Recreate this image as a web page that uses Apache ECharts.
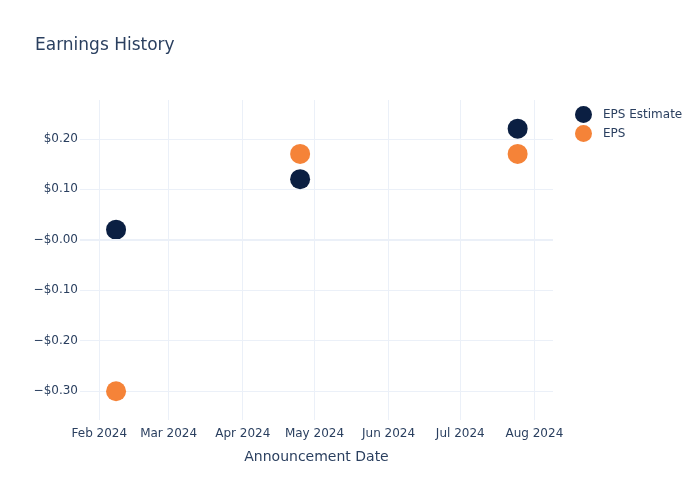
<!DOCTYPE html>
<html>
<head>
<meta charset="utf-8">
<script src="https://cdn.jsdelivr.net/npm/echarts@6/dist/echarts.min.js"></script>
<style>html,body{margin:0;padding:0;background:#fff}#c{width:700px;height:500px}</style>
</head>
<body>
<div id="c"></div>
<script>
const dates = ['2024-02-08', '2024-04-25', '2024-07-25'];
const epsEstimate = [0.02, 0.12, 0.22];
const epsActual = [-0.30, 0.17, 0.17];
const yTickValues = [-0.3, -0.2, -0.1, 0, 0.1, 0.2];
const yTickLabels = ['\u2212$0.30', '\u2212$0.20', '\u2212$0.10', '\u2212$0.00', '$0.10', '$0.20'];
const monthNames = ['Jan','Feb','Mar','Apr','May','Jun','Jul','Aug','Sep','Oct','Nov','Dec'];

function toTime(s) { const p = s.split('-').map(Number); return new Date(p[0], p[1]-1, p[2]).getTime(); }
const textColor = '#2a3f5f';
const gridColor = '#ebf0f8';
const font = 'DejaVu Sans';

const chart = echarts.init(document.getElementById('c'), null, {renderer: 'canvas'});
chart.setOption({
  animation: false,
  backgroundColor: '#fff',
  textStyle: {fontFamily: font},
  title: {
    text: 'Earnings History', left: 30, top: 32,
    textStyle: {fontFamily: font, fontSize: 17, fontWeight: 'normal', color: textColor}
  },
  legend: {
    orient: 'vertical', left: 570, top: 101, itemWidth: 17, itemHeight: 17, itemGap: 2,
    icon: 'circle',
    textStyle: {fontFamily: font, fontSize: 12, color: textColor, padding: [0,0,0,6]},
    data: ['EPS Estimate', 'EPS']
  },
  grid: {left: 80, right: 147, top: 100, bottom: 80, containLabel: false},
  xAxis: {
    type: 'time',
    min: new Date(2024, 0, 23, 22).getTime(),
    max: new Date(2024, 7, 8, 19).getTime(),
    minInterval: 28 * 86400000, maxInterval: 31 * 86400000,
    name: 'Announcement Date', nameLocation: 'middle', nameGap: 30,
    nameTextStyle: {fontFamily: font, fontSize: 14, color: textColor},
    axisLine: {show: false}, axisTick: {show: false},
    axisLabel: {
      fontFamily: font, fontSize: 12, color: textColor, margin: 8, hideOverlap: false,
      showMinLabel: false, showMaxLabel: false,
      formatter: function (v) { const d = new Date(v); return monthNames[d.getMonth()] + ' ' + d.getFullYear(); }
    },
    splitLine: {show: true, showMinLine: false, showMaxLine: false, lineStyle: {color: gridColor, width: 1}}
  },
  yAxis: {
    type: 'value', min: -0.357, max: 0.2768, splitNumber: 6,
    axisLine: {show: false}, axisTick: {show: false},
    axisLabel: {
      fontFamily: font, fontSize: 12, color: textColor, margin: 2,
      showMinLabel: false, showMaxLabel: false,
      formatter: function (v) {
        for (let i = 0; i < yTickValues.length; i++) if (Math.abs(v - yTickValues[i]) < 1e-6) return yTickLabels[i];
        return '';
      }
    },
    splitLine: {show: true, showMinLine: false, showMaxLine: false, lineStyle: {color: gridColor, width: 1}}
  },
  series: [
    {
      name: 'EPS Estimate', type: 'scatter', symbolSize: 20,
      itemStyle: {color: '#0b1f42', opacity: 1},
      data: dates.map((d, i) => [toTime(d), epsEstimate[i]]),
      markLine: {
        silent: true, symbol: 'none', label: {show: false},
        lineStyle: {color: gridColor, width: 2, type: 'solid'},
        data: [{yAxis: 0}]
      },
      z: 3
    },
    {
      name: 'EPS', type: 'scatter', symbolSize: 20,
      itemStyle: {color: '#f58338', opacity: 1},
      data: dates.map((d, i) => [toTime(d), epsActual[i]]),
      z: 3
    }
  ]
});
</script>
</body>
</html>
